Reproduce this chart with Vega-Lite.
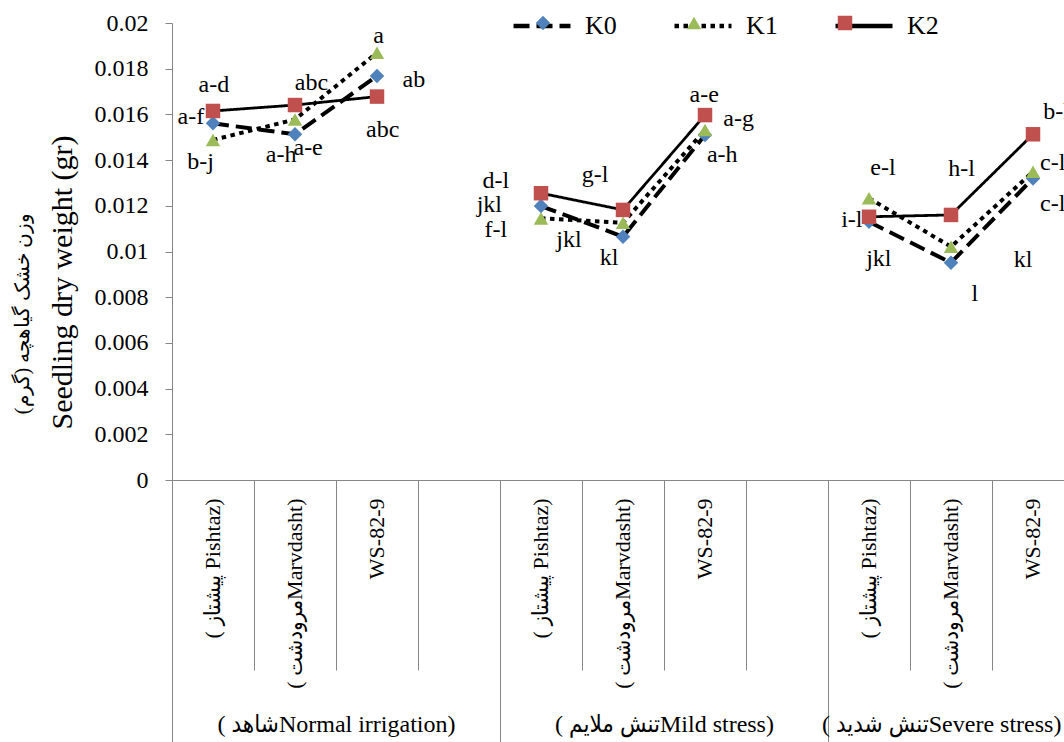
{
  "$schema": "https://vega.github.io/schema/vega-lite/v6.json",
  "width": 892,
  "height": 457,
  "autosize": {"type": "none"},
  "padding": {"left": 172, "top": 23, "right": 0, "bottom": 262},
  "background": "white",
  "config": {
    "view": {"stroke": null},
    "font": "Liberation Serif",
    "axis": {"labelFont": "Liberation Serif", "titleFont": "Liberation Serif", "labelColor": "black", "titleColor": "black", "domainColor": "#868686", "tickColor": "#868686", "grid": false, "titleFontWeight": "normal"},
    "legend": {"labelFont": "Liberation Serif", "labelColor": "black"}
  },
  "datasets": {
    "pts": [
      {"stress": "Normal", "cultivar": "Pishtaz", "slot": "Normal|Pishtaz", "K": "K0", "w": 0.01561},
      {"stress": "Normal", "cultivar": "Pishtaz", "slot": "Normal|Pishtaz", "K": "K1", "w": 0.01488},
      {"stress": "Normal", "cultivar": "Pishtaz", "slot": "Normal|Pishtaz", "K": "K2", "w": 0.01615},
      {"stress": "Normal", "cultivar": "Marvdasht", "slot": "Normal|Marvdasht", "K": "K0", "w": 0.01513},
      {"stress": "Normal", "cultivar": "Marvdasht", "slot": "Normal|Marvdasht", "K": "K1", "w": 0.01578},
      {"stress": "Normal", "cultivar": "Marvdasht", "slot": "Normal|Marvdasht", "K": "K2", "w": 0.01641},
      {"stress": "Normal", "cultivar": "WS-82-9", "slot": "Normal|WS-82-9", "K": "K0", "w": 0.01768},
      {"stress": "Normal", "cultivar": "WS-82-9", "slot": "Normal|WS-82-9", "K": "K1", "w": 0.0187},
      {"stress": "Normal", "cultivar": "WS-82-9", "slot": "Normal|WS-82-9", "K": "K2", "w": 0.01678},
      {"stress": "Mild", "cultivar": "Pishtaz", "slot": "Mild|Pishtaz", "K": "K0", "w": 0.01199},
      {"stress": "Mild", "cultivar": "Pishtaz", "slot": "Mild|Pishtaz", "K": "K1", "w": 0.01145},
      {"stress": "Mild", "cultivar": "Pishtaz", "slot": "Mild|Pishtaz", "K": "K2", "w": 0.01255},
      {"stress": "Mild", "cultivar": "Marvdasht", "slot": "Mild|Marvdasht", "K": "K0", "w": 0.01065},
      {"stress": "Mild", "cultivar": "Marvdasht", "slot": "Mild|Marvdasht", "K": "K1", "w": 0.01126},
      {"stress": "Mild", "cultivar": "Marvdasht", "slot": "Mild|Marvdasht", "K": "K2", "w": 0.01182},
      {"stress": "Mild", "cultivar": "WS-82-9", "slot": "Mild|WS-82-9", "K": "K0", "w": 0.0151},
      {"stress": "Mild", "cultivar": "WS-82-9", "slot": "Mild|WS-82-9", "K": "K1", "w": 0.01532},
      {"stress": "Mild", "cultivar": "WS-82-9", "slot": "Mild|WS-82-9", "K": "K2", "w": 0.01597},
      {"stress": "Severe", "cultivar": "Pishtaz", "slot": "Severe|Pishtaz", "K": "K0", "w": 0.0113},
      {"stress": "Severe", "cultivar": "Pishtaz", "slot": "Severe|Pishtaz", "K": "K1", "w": 0.01233},
      {"stress": "Severe", "cultivar": "Pishtaz", "slot": "Severe|Pishtaz", "K": "K2", "w": 0.01152},
      {"stress": "Severe", "cultivar": "Marvdasht", "slot": "Severe|Marvdasht", "K": "K0", "w": 0.00951},
      {"stress": "Severe", "cultivar": "Marvdasht", "slot": "Severe|Marvdasht", "K": "K1", "w": 0.01021},
      {"stress": "Severe", "cultivar": "Marvdasht", "slot": "Severe|Marvdasht", "K": "K2", "w": 0.0116},
      {"stress": "Severe", "cultivar": "WS-82-9", "slot": "Severe|WS-82-9", "K": "K0", "w": 0.0132},
      {"stress": "Severe", "cultivar": "WS-82-9", "slot": "Severe|WS-82-9", "K": "K1", "w": 0.01349},
      {"stress": "Severe", "cultivar": "WS-82-9", "slot": "Severe|WS-82-9", "K": "K2", "w": 0.01513}
    ],
    "letters": [
      {"pos": 0.51, "at": 0.01729, "t": "a-d"},
      {"pos": 0.23, "at": 0.01589, "t": "a-f"},
      {"pos": 0.35, "at": 0.01392, "t": "b-j"},
      {"pos": 1.7, "at": 0.01737, "t": "abc"},
      {"pos": 1.33, "at": 0.01422, "t": "a-h"},
      {"pos": 1.66, "at": 0.01453, "t": "a-e"},
      {"pos": 2.52, "at": 0.01943, "t": "a"},
      {"pos": 2.95, "at": 0.0175, "t": "ab"},
      {"pos": 2.57, "at": 0.01532, "t": "abc"},
      {"pos": 6.49, "at": 0.01685, "t": "a-e"},
      {"pos": 6.91, "at": 0.0158, "t": "a-g"},
      {"pos": 6.71, "at": 0.01422, "t": "a-h"},
      {"pos": 5.16, "at": 0.01335, "t": "g-l"},
      {"pos": 3.95, "at": 0.01309, "t": "d-l"},
      {"pos": 3.87, "at": 0.01204, "t": "jkl"},
      {"pos": 3.95, "at": 0.01094, "t": "f-l"},
      {"pos": 4.84, "at": 0.0105, "t": "jkl"},
      {"pos": 5.33, "at": 0.00972, "t": "kl"},
      {"pos": 8.67, "at": 0.01365, "t": "e-l"},
      {"pos": 8.29, "at": 0.01138, "t": "i-l"},
      {"pos": 8.62, "at": 0.00967, "t": "jkl"},
      {"pos": 9.63, "at": 0.01361, "t": "h-l"},
      {"pos": 9.79, "at": 0.00814, "t": "l"},
      {"pos": 10.38, "at": 0.00963, "t": "kl"},
      {"pos": 10.82, "at": 0.0161, "t": "b-h"},
      {"pos": 10.74, "at": 0.01387, "t": "c-l"},
      {"pos": 10.74, "at": 0.01208, "t": "c-l"}
    ]
  },
  "layer": [
    {
      "data": {"name": "pts"},
      "transform": [{"filter": "datum.K != 'K2'"}],
      "mark": {"type": "line", "color": "black", "strokeWidth": 4},
      "encoding": {
        "x": {
          "field": "slot", "type": "nominal",
          "scale": {"type": "band", "domain": ["Normal|Pishtaz", "Normal|Marvdasht", "Normal|WS-82-9", "Normal|", "Mild|Pishtaz", "Mild|Marvdasht", "Mild|WS-82-9", "Mild|", "Severe|Pishtaz", "Severe|Marvdasht", "Severe|WS-82-9", "Severe|"], "range": [0, 984], "paddingInner": 0, "paddingOuter": 0},
          "axis": {
            "orient": "bottom", "title": null, "ticks": false,
            "labelAngle": -90, "labelAlign": "right", "labelBaseline": "middle",
            "labelPadding": 18, "labelFontSize": 22, "labelLimit": 300, "labelFont": "Liberation Serif, DejaVu Sans Condensed",
            "labelExpr": "indexof(datum.value,'Pishtaz')>=0 ? '( پیشتاز Pishtaz)' : indexof(datum.value,'Marvdasht')>=0 ? '( مرودشتMarvdasht)' : indexof(datum.value,'WS')>=0 ? 'WS-82-9' : ''"
          }
        },
        "y": {
          "field": "w", "type": "quantitative",
          "scale": {"domain": [0, 0.02], "nice": false},
          "axis": {
            "orient": "left",
            "values": [0, 0.002, 0.004, 0.006, 0.008, 0.01, 0.012, 0.014, 0.016, 0.018, 0.02],
            "format": "~f", "tickSize": 7, "labelPadding": 17, "labelFontSize": 24,
            "title": "Seedling dry weight (gr)", "titleFontSize": 30,
            "titleX": -110, "titleY": 259, "titleAngle": -90, "titleAlign": "center", "titleBaseline": "middle"
          }
        },
        "strokeDash": {
          "field": "K", "type": "nominal",
          "scale": {"domain": ["K0", "K1", "K2"], "range": [[16, 7], [4.5, 4.5], [1, 0]]},
          "legend": {
            "orient": "none", "legendX": 339, "legendY": -28, "direction": "horizontal", "title": null, "padding": 0,
            "symbolType": "stroke", "symbolSize": 3249, "symbolStrokeWidth": 4.5, "symbolStrokeColor": "black",
            "labelFontSize": 26, "labelOffset": 12, "columnPadding": 48
          }
        },
        "detail": {"field": "stress"}
      }
    },
    {
      "data": {"name": "pts"},
      "transform": [{"filter": "datum.K == 'K2'"}],
      "mark": {"type": "line", "color": "black", "strokeWidth": 2.8},
      "encoding": {
        "x": {
          "field": "slot", "type": "nominal",
          "scale": {"type": "band", "domain": ["Normal|Pishtaz", "Normal|Marvdasht", "Normal|WS-82-9", "Normal|", "Mild|Pishtaz", "Mild|Marvdasht", "Mild|WS-82-9", "Mild|", "Severe|Pishtaz", "Severe|Marvdasht", "Severe|WS-82-9", "Severe|"], "range": [0, 984], "paddingInner": 0, "paddingOuter": 0},
          "axis": {"orient": "bottom", "title": null, "values": ["Normal|Pishtaz", "Mild|Pishtaz", "Severe|Pishtaz"], "bandPosition": 0, "tickSize": 262, "labels": false, "domain": false}
        },
        "y": {"field": "w", "type": "quantitative", "axis": null},
        "strokeDash": {
          "field": "K", "type": "nominal",
          "legend": {
            "orient": "none", "legendX": 339, "legendY": -28, "direction": "horizontal", "title": null, "padding": 0,
            "symbolType": "stroke", "symbolSize": 3249, "symbolStrokeWidth": 4.5, "symbolStrokeColor": "black",
            "labelFontSize": 26, "labelOffset": 12, "columnPadding": 48
          }
        },
        "detail": {"field": "stress"}
      }
    },
    {
      "data": {"name": "pts"},
      "mark": {"type": "point", "filled": true, "opacity": 1, "size": 210},
      "encoding": {
        "x": {
          "field": "slot", "type": "nominal",
          "scale": {"type": "band", "domain": ["Normal|Pishtaz", "Normal|Marvdasht", "Normal|WS-82-9", "Normal|", "Mild|Pishtaz", "Mild|Marvdasht", "Mild|WS-82-9", "Mild|", "Severe|Pishtaz", "Severe|Marvdasht", "Severe|WS-82-9", "Severe|"], "range": [0, 984], "paddingInner": 0, "paddingOuter": 0},
          "axis": {"orient": "bottom", "title": null, "bandPosition": 0, "tickSize": 190, "labels": false, "domain": false}
        },
        "y": {
          "field": "w", "type": "quantitative",
          "axis": {"orient": "left", "labels": false, "ticks": false, "domain": false, "title": "وزن خشک گیاهچه (گرم)", "titleFontSize": 20, "titleX": -150, "titleY": 290, "titleAngle": -90, "titleAlign": "center", "titleBaseline": "middle"}
        },
        "shape": {
          "field": "K", "type": "nominal",
          "scale": {"range": ["diamond", "triangle-up", "square"]},
          "legend": {"orient": "none", "legendX": 358, "legendY": -13, "direction": "horizontal", "title": null, "padding": 0, "symbolSize": 210, "symbolStrokeWidth": 0, "labelFontSize": 26, "labelOffset": 77, "columnPadding": 48, "labelExpr": "''"}
        },
        "color": {
          "field": "K", "type": "nominal",
          "scale": {"range": ["#4F81BD", "#9BBB59", "#C0504D"]},
          "legend": {"orient": "none", "legendX": 358, "legendY": -13, "direction": "horizontal", "title": null, "padding": 0, "symbolSize": 210, "symbolStrokeWidth": 0, "labelFontSize": 26, "labelOffset": 77, "columnPadding": 48, "labelExpr": "''"}
        }
      }
    },
    {
      "data": {"name": "letters"},
      "mark": {"type": "text", "font": "Liberation Serif", "fontSize": 24, "align": "center", "baseline": "middle", "color": "black"},
      "encoding": {
        "x": {
          "field": "pos", "type": "quantitative",
          "scale": {"domain": [0, 10.878], "nice": false, "zero": false},
          "axis": {
            "orient": "bottom", "title": null, "values": [2, 6, 9.38],
            "ticks": false, "domain": false, "grid": false, "labelAngle": 0, "labelPadding": 244, "labelBaseline": "middle", "labelAlign": "center",
            "labelFontSize": 24, "labelLimit": 400, "labelFlush": false, "labelOverlap": false, "labelFont": "Liberation Serif, DejaVu Sans Condensed",
            "labelExpr": "datum.value < 3 ? '( شاهدNormal irrigation)' : datum.value < 7 ? '( تنش ملایمMild stress)' : '( تنش شدیدSevere stress)'"
          }
        },
        "y": {"field": "at", "type": "quantitative", "axis": null},
        "text": {"field": "t"}
      }
    }
  ],
  "resolve": {"scale": {"x": "independent"}, "axis": {"x": "independent", "y": "independent"}}
}
